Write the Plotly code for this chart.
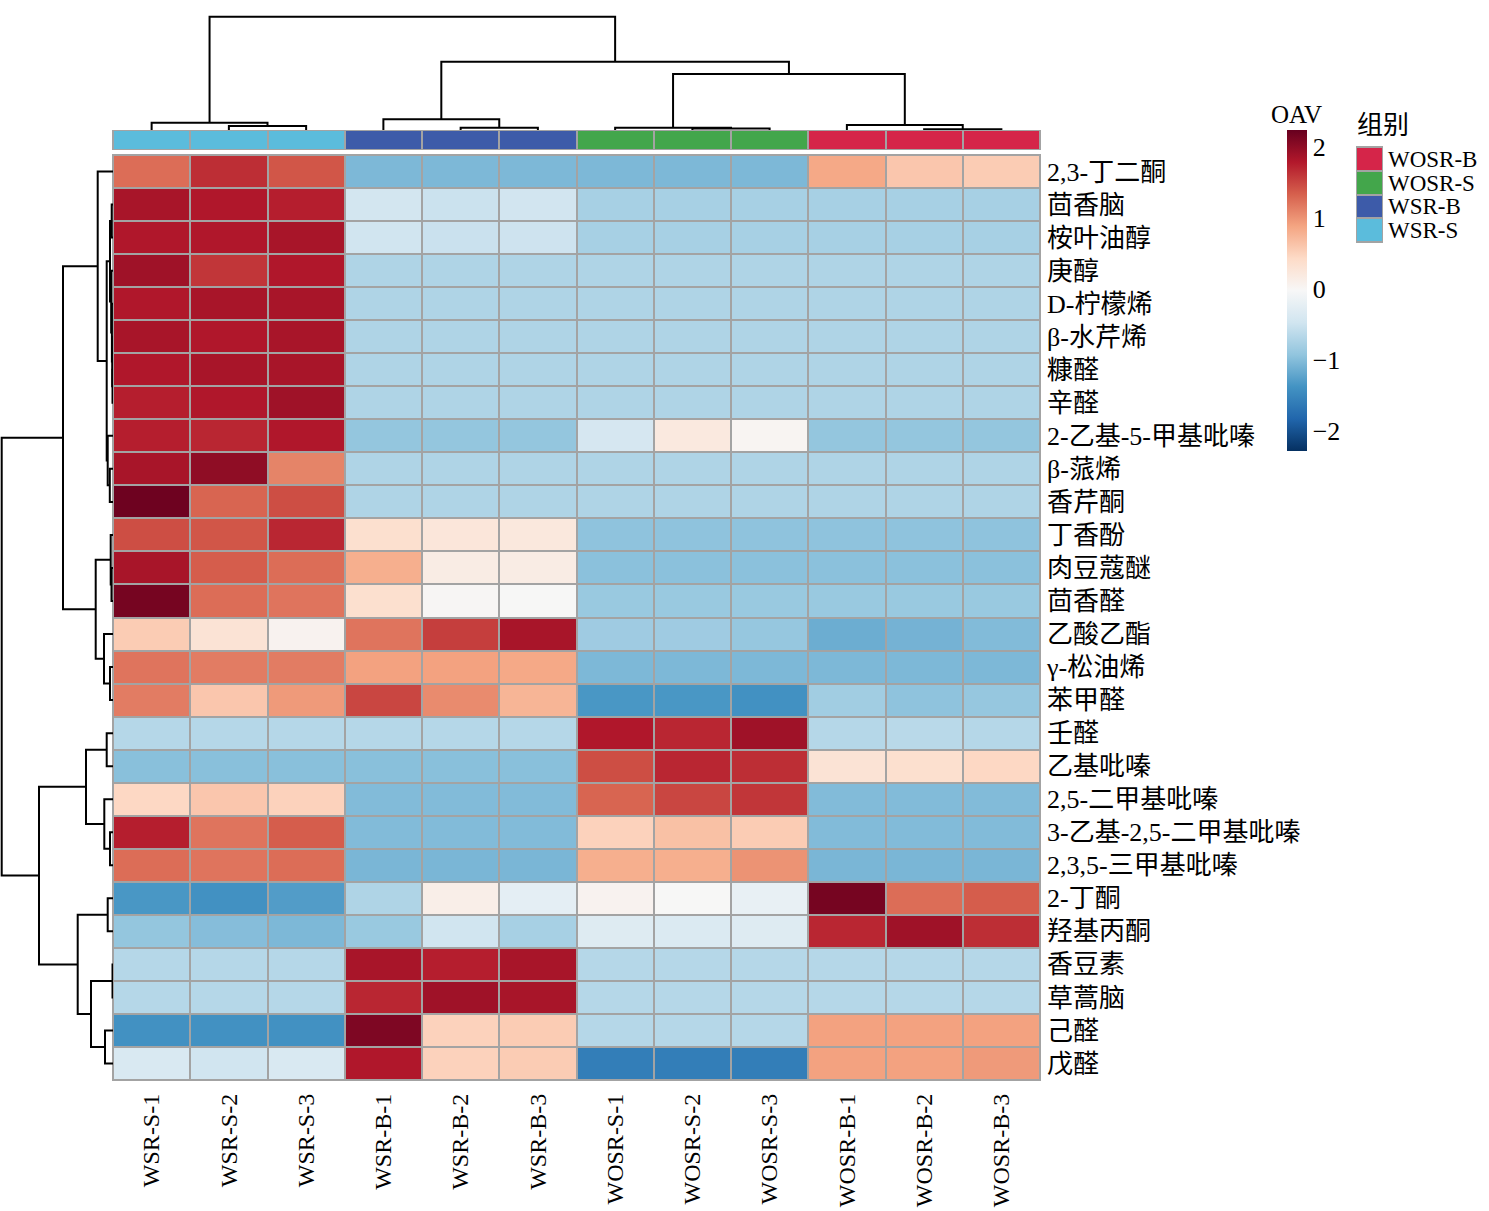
import plotly.graph_objects as go

# samples (columns, already in clustered order)
samples = ["WSR-S-1", "WSR-S-2", "WSR-S-3", "WSR-B-1", "WSR-B-2", "WSR-B-3",
           "WOSR-S-1", "WOSR-S-2", "WOSR-S-3", "WOSR-B-1", "WOSR-B-2", "WOSR-B-3"]
sample_group = [3, 3, 3, 2, 2, 2, 1, 1, 1, 0, 0, 0]
group_names = ["WOSR-B", "WOSR-S", "WSR-B", "WSR-S"]
group_colors = ["#d52549", "#43a64b", "#3d5ba9", "#5bbcdc"]

# compounds (rows, clustered order)
compounds = ["2,3-丁二酮", "茴香脑", "桉叶油醇", "庚醇", "D-柠檬烯", "β-水芹烯", "糠醛",
             "辛醛", "2-乙基-5-甲基吡嗪", "β-蒎烯", "香芹酮", "丁香酚", "肉豆蔻醚",
             "茴香醛", "乙酸乙酯", "γ-松油烯", "苯甲醛", "壬醛", "乙基吡嗪",
             "2,5-二甲基吡嗪", "3-乙基-2,5-二甲基吡嗪", "2,3,5-三甲基吡嗪", "2-丁酮",
             "羟基丙酮", "香豆素", "草蒿脑", "己醛", "戊醛"]

# row-scaled OAV values
oav = [
    [1.25, 1.65, 1.40, -1.05, -1.05, -1.05, -1.05, -1.05, -1.05, 0.85, 0.60, 0.55],
    [1.85, 1.80, 1.75, -0.45, -0.52, -0.47, -0.78, -0.78, -0.78, -0.78, -0.78, -0.78],
    [1.80, 1.80, 1.85, -0.48, -0.53, -0.50, -0.78, -0.78, -0.78, -0.78, -0.78, -0.78],
    [1.90, 1.60, 1.80, -0.72, -0.72, -0.72, -0.72, -0.72, -0.72, -0.72, -0.72, -0.72],
    [1.80, 1.85, 1.85, -0.72, -0.72, -0.72, -0.72, -0.72, -0.72, -0.72, -0.72, -0.72],
    [1.85, 1.80, 1.85, -0.72, -0.72, -0.72, -0.72, -0.72, -0.72, -0.72, -0.72, -0.72],
    [1.80, 1.85, 1.85, -0.72, -0.72, -0.72, -0.72, -0.72, -0.72, -0.72, -0.72, -0.72],
    [1.75, 1.80, 1.90, -0.72, -0.72, -0.72, -0.72, -0.72, -0.72, -0.72, -0.72, -0.72],
    [1.75, 1.70, 1.80, -0.92, -0.92, -0.92, -0.42, 0.20, 0.02, -0.92, -0.92, -0.92],
    [1.85, 2.00, 1.10, -0.72, -0.72, -0.72, -0.72, -0.72, -0.72, -0.72, -0.72, -0.72],
    [2.20, 1.30, 1.45, -0.72, -0.72, -0.72, -0.72, -0.72, -0.72, -0.72, -0.72, -0.72],
    [1.45, 1.40, 1.70, 0.35, 0.25, 0.22, -0.95, -0.95, -0.95, -0.95, -0.95, -0.95],
    [1.85, 1.35, 1.25, 0.80, 0.15, 0.15, -0.97, -0.97, -0.97, -0.97, -0.97, -0.97],
    [2.15, 1.25, 1.20, 0.35, 0.00, -0.02, -0.88, -0.88, -0.88, -0.88, -0.88, -0.88],
    [0.55, 0.30, 0.05, 1.20, 1.55, 1.85, -0.84, -0.84, -0.90, -1.15, -1.10, -1.02],
    [1.20, 1.15, 1.15, 0.90, 0.90, 0.85, -1.05, -1.05, -1.05, -1.05, -1.05, -1.05],
    [1.15, 0.60, 0.95, 1.50, 1.05, 0.75, -1.35, -1.35, -1.40, -0.82, -0.95, -0.90],
    [-0.68, -0.68, -0.68, -0.68, -0.68, -0.68, 1.80, 1.70, 1.90, -0.68, -0.65, -0.68],
    [-0.98, -0.98, -0.98, -0.98, -0.98, -0.98, 1.45, 1.70, 1.65, 0.30, 0.35, 0.45],
    [0.45, 0.60, 0.50, -1.02, -1.02, -1.02, 1.30, 1.50, 1.60, -1.02, -1.02, -1.02],
    [1.75, 1.20, 1.35, -1.02, -1.02, -1.02, 0.50, 0.65, 0.55, -1.02, -1.02, -1.02],
    [1.25, 1.20, 1.25, -1.07, -1.07, -1.07, 0.80, 0.80, 1.00, -1.07, -1.07, -1.07],
    [-1.35, -1.40, -1.30, -0.72, 0.12, -0.25, 0.05, -0.02, -0.20, 2.15, 1.25, 1.35],
    [-0.92, -1.00, -1.05, -0.88, -0.48, -0.78, -0.32, -0.36, -0.32, 1.70, 1.90, 1.65],
    [-0.68, -0.68, -0.68, 1.85, 1.75, 1.85, -0.68, -0.68, -0.68, -0.68, -0.68, -0.68],
    [-0.68, -0.68, -0.68, 1.70, 1.90, 1.85, -0.68, -0.68, -0.68, -0.68, -0.68, -0.68],
    [-1.40, -1.40, -1.40, 2.10, 0.50, 0.55, -0.68, -0.68, -0.68, 0.90, 0.90, 0.90],
    [-0.38, -0.48, -0.38, 1.80, 0.50, 0.55, -1.60, -1.60, -1.60, 0.90, 0.90, 0.95],
]

# dendrogram merges: (child a, child b, height); ids >= n refer to earlier merges
col_merges = [(1, 2, 4), (0, 12, 7.3), (4, 5, 2.3), (3, 14, 10.7), (7, 8, 1.5),
              (6, 16, 2.3), (10, 11, 0.7), (9, 18, 5), (17, 19, 56), (15, 20, 68.3),
              (13, 21, 113.3)]
row_merges = [(6, 7, 0.5), (5, 28, 0.8), (4, 29, 1.1), (3, 30, 1.8), (1, 2, 1.3),
              (32, 31, 3.0), (9, 10, 3.2), (8, 34, 5.3), (33, 35, 6.3), (0, 36, 15.3),
              (12, 13, 1.5), (11, 38, 2.3), (15, 16, 3.0), (14, 40, 9.0), (39, 41, 17.3),
              (37, 42, 50), (17, 18, 6.3), (20, 21, 3.0), (19, 45, 8.7), (44, 46, 27),
              (22, 23, 5.3), (24, 25, 0.5), (26, 27, 8.0), (49, 50, 22), (48, 51, 35.3),
              (47, 52, 74), (43, 53, 111.3)]

W, H = 1489, 1211
FONT = "Liberation Serif, Times New Roman, Noto Sans CJK SC"


def px_x(p):
    return p / W


def px_y(p):
    return 1 - p / H


def dendro(merges, n):
    pos = [float(i) for i in range(n)]
    hgt = [0.0] * n
    p, h = [], []
    for a, b, ht in merges:
        p += [pos[a], pos[a], pos[b], pos[b], None]
        h += [hgt[a], ht, ht, hgt[b], None]
        pos.append((pos[a] + pos[b]) / 2)
        hgt.append(ht)
    return p, h


rdbu = ["#053061", "#2166ac", "#4393c3", "#92c5de", "#d1e5f0", "#f7f7f7",
        "#fddbc7", "#f4a582", "#d6604d", "#b2182b", "#67001f"]
cscale = [[i / 10, c] for i, c in enumerate(rdbu)]
gscale = []
for i, c in enumerate(group_colors):
    gscale += [[i / 4, c], [(i + 1) / 4, c]]

fig = go.Figure()

# main heatmap
fig.add_trace(go.Heatmap(
    z=oav, x=list(range(len(samples))), y=list(range(len(compounds))),
    colorscale=cscale, zmin=-2.29, zmax=2.24, xgap=2, ygap=2,
    xaxis="x", yaxis="y",
    colorbar=dict(x=px_x(1287), xanchor="left", xpad=0, ypad=0,
                  y=px_y(130), yanchor="top", len=(451 - 130) / H, lenmode="fraction",
                  thickness=20, outlinewidth=0, ticks="",
                  tickvals=[-2, -1, 0, 1, 2], tickfont=dict(size=26, family=FONT)),
))

# group annotation bar
fig.add_trace(go.Heatmap(
    z=[sample_group], x=list(range(len(samples))), y=[0],
    colorscale=gscale, zmin=0, zmax=3, xgap=2, ygap=0, showscale=False,
    xaxis="x2", yaxis="y2", hoverinfo="skip",
))

# group legend as a small heatmap
fig.add_trace(go.Heatmap(
    z=[[0], [1], [2], [3]], x=[0], y=[0, 1, 2, 3],
    colorscale=gscale, zmin=0, zmax=3, ygap=2, showscale=False,
    xaxis="x5", yaxis="y5", hoverinfo="skip",
))

# column dendrogram
cx, cy = dendro(col_merges, len(samples))
fig.add_trace(go.Scatter(x=cx, y=cy, mode="lines", line=dict(color="black", width=2),
                         xaxis="x3", yaxis="y3", showlegend=False, hoverinfo="skip"))

# row dendrogram
ry, rx = dendro(row_merges, len(compounds))
fig.add_trace(go.Scatter(x=rx, y=ry, mode="lines", line=dict(color="black", width=2),
                         xaxis="x4", yaxis="y4", showlegend=False, hoverinfo="skip"))

hid = dict(visible=False, showgrid=False, zeroline=False)
hm_x = [px_x(113), px_x(1040)]
hm_y = [px_y(1080), px_y(155)]

fig.update_layout(
    width=W, height=H, margin=dict(l=0, r=0, t=0, b=0, autoexpand=False),
    paper_bgcolor="white", plot_bgcolor="white",
    font=dict(family=FONT, color="black"),
    showlegend=False,
    xaxis=dict(domain=hm_x, anchor="y", range=[-0.5, 11.5], tickvals=list(range(12)),
               ticktext=samples, tickangle=-90, ticks="", showgrid=False, zeroline=False,
               showline=False, tickfont=dict(size=24), ticklabelstandoff=8,
               automargin=False),
    yaxis=dict(domain=hm_y, anchor="x", range=[27.5, -0.5], side="right",
               tickvals=list(range(28)), ticktext=compounds, ticks="", showgrid=False,
               zeroline=False, showline=False, tickfont=dict(size=26), ticklabelstandoff=6,
               automargin=False),
    xaxis2=dict(domain=hm_x, anchor="y2", range=[-0.5, 11.5], **hid),
    yaxis2=dict(domain=[px_y(149), px_y(131)], anchor="x2", range=[-0.5, 0.5], **hid),
    xaxis3=dict(domain=hm_x, anchor="y3", range=[-0.5, 11.5], **hid),
    yaxis3=dict(domain=[px_y(130), px_y(15)], anchor="x3", range=[0, 115], **hid),
    xaxis4=dict(domain=[0, px_x(113)], anchor="y4", range=[113, 0], **hid),
    yaxis4=dict(domain=hm_y, anchor="x4", range=[27.5, -0.5], **hid),
    xaxis5=dict(domain=[px_x(1357), px_x(1382)], anchor="y5", range=[-0.5, 0.5], **hid),
    yaxis5=dict(domain=[px_y(242), px_y(147)], anchor="x5", range=[3.5, -0.5], side="right",
                tickvals=[0, 1, 2, 3], ticktext=group_names, ticks="", showgrid=False,
                zeroline=False, showline=False, tickfont=dict(size=23), ticklabelstandoff=5,
                automargin=False),
)

# grey cell borders (background behind the gapped heatmaps)
for x0, x1, y0, y1 in [(112, 1041, 154, 1081), (112, 1041, 130, 150), (1356, 1383, 146, 243)]:
    fig.add_shape(type="rect", xref="paper", yref="paper",
                  x0=px_x(x0), x1=px_x(x1), y0=px_y(y1), y1=px_y(y0),
                  fillcolor="#a3a3a3", line=dict(width=0), layer="below")

fig.add_annotation(text="OAV", xref="paper", yref="paper", x=px_x(1296), y=px_y(114),
                   xanchor="center", yanchor="middle", showarrow=False,
                   font=dict(size=25, family=FONT))
fig.add_annotation(text="组别", xref="paper", yref="paper", x=px_x(1355), y=px_y(125),
                   xanchor="left", yanchor="middle", showarrow=False,
                   font=dict(size=26, family=FONT))

# drop the page's default body margin so the figure sits at the window's corner
fig.write_html("out.html", config={"displayModeBar": False},
               post_script="document.body.style.margin='0';document.body.style.overflow='hidden';")
